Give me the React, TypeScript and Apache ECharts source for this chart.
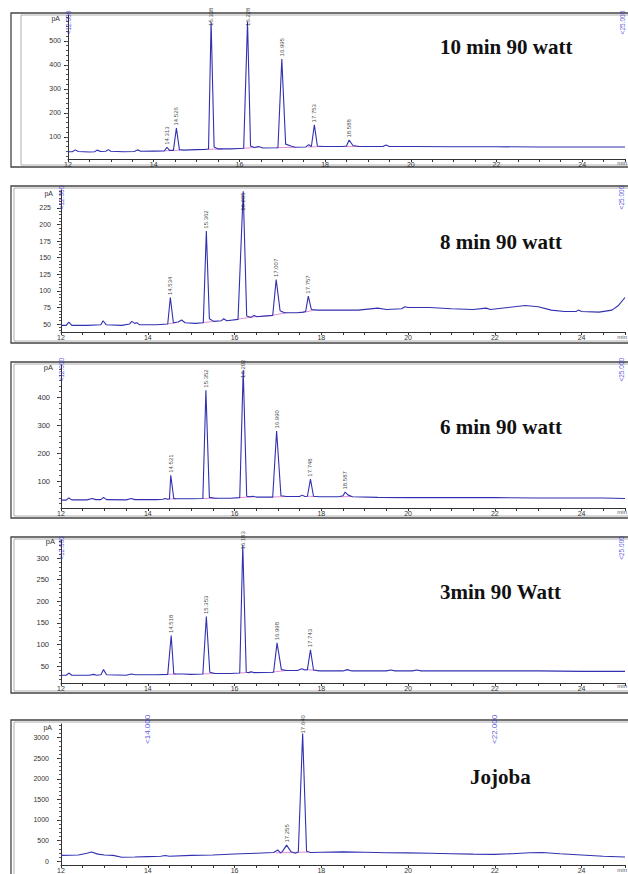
import React, { useEffect, useRef } from 'react';
import * as echarts from 'echarts';

// ---------- data ----------
const X_LABELS = [12, 14, 16, 18, 20, 22, 24];

const YTICKS_10MIN = [100, 200, 300, 400, 500];
const YTICKS_8MIN = [50, 75, 100, 125, 150, 175, 200, 225];
const YTICKS_6MIN = [100, 200, 300, 400];
const YTICKS_3MIN = [50, 100, 150, 200, 250, 300];
const YTICKS_JOJOBA = [0, 500, 1000, 1500, 2000, 2500, 3000];

const TITLES = ['10 min 90 watt', '8 min 90 watt', '6 min 90 watt', '3min 90 Watt', 'Jojoba'];

const TRACE_10MIN = [
  [12.0, 38], [12.1, 38], [12.17, 46], [12.24, 39], [12.5, 37], [12.62, 38], [12.68, 45], [12.76, 39],
  [12.88, 40], [12.94, 47], [13.0, 40], [13.3, 38], [13.55, 39], [13.62, 46], [13.7, 40], [14.0, 41],
  [14.25, 42], [14.31, 57], [14.37, 44], [14.46, 44], [14.53, 137], [14.6, 47], [14.7, 45], [15.0, 47],
  [15.2, 48], [15.28, 50], [15.34, 580], [15.41, 58], [15.5, 50], [15.8, 50], [16.0, 52], [16.1, 53],
  [16.19, 580], [16.26, 62], [16.35, 56], [16.45, 60], [16.55, 54], [16.9, 55], [16.99, 425], [17.08, 70],
  [17.2, 62], [17.3, 57], [17.55, 58], [17.62, 68], [17.68, 60], [17.75, 150], [17.82, 62], [17.95, 60],
  [18.4, 60], [18.5, 62], [18.56, 87], [18.65, 64], [18.8, 60], [19.35, 60], [19.42, 66], [19.5, 60],
  [20.0, 60], [21.0, 59], [22.0, 59], [23.0, 58], [24.0, 58], [25.0, 58],
];
const PEAKS_10MIN = [
  [14.31, 57, '14.313'], [14.53, 137, '14.526'], [15.34, 580, '15.338'], [16.19, 580, '16.228'],
  [16.99, 425, '16.995'], [17.75, 150, '17.753'], [18.56, 87, '18.588'],
];
const MARKERS_10MIN = [[12.0, 525, '<12.000'], [24.93, 525, '<25.000']];
const INTEG_10MIN = [
  [14.27, 42], [14.62, 45], null, [15.25, 48], [15.62, 50], null, [16.05, 52], [16.45, 57], null,
  [16.85, 55], [17.3, 57], null, [17.6, 58], [17.95, 60], null, [18.45, 60], [18.8, 60],
];

const TRACE_8MIN = [
  [12.0, 48], [12.12, 48], [12.18, 53], [12.25, 48], [12.6, 48], [12.92, 49], [12.97, 55], [13.04, 49],
  [13.4, 48], [13.58, 50], [13.63, 54], [13.7, 51], [13.75, 52], [13.8, 49], [14.2, 49], [14.46, 50],
  [14.52, 90], [14.59, 52], [14.7, 53], [14.78, 56], [14.86, 52], [15.1, 51], [15.28, 52], [15.35, 190],
  [15.42, 58], [15.52, 54], [15.7, 55], [15.75, 58], [15.82, 55], [16.08, 57], [16.2, 250], [16.28, 62],
  [16.38, 60], [16.45, 63], [16.52, 61], [16.88, 63], [16.96, 117], [17.05, 70], [17.15, 67], [17.45, 67],
  [17.58, 68], [17.64, 69], [17.7, 92], [17.77, 72], [17.9, 71], [18.4, 71], [18.85, 71], [19.3, 74],
  [19.5, 72], [19.85, 73], [19.93, 76], [20.0, 75], [20.5, 75], [21.0, 73], [21.5, 72], [21.8, 74],
  [21.9, 72], [22.3, 75], [22.7, 78], [23.0, 76], [23.3, 71], [23.6, 69], [23.88, 69], [23.92, 71],
  [24.0, 69], [24.4, 68], [24.7, 71], [24.85, 78], [25.0, 90],
];
const PEAKS_8MIN = [
  [14.52, 90, '14.534'], [15.35, 190, '15.362'], [16.2, 250, '16.205'], [16.96, 117, '17.007'], [17.7, 92, '17.757'],
];
const MARKERS_8MIN = [[12.0, 222, '<12.000'], [24.93, 222, '<25.000']];
const INTEG_8MIN = [
  [14.45, 50], [14.65, 52], null, [15.25, 52], [15.55, 54], null, [16.05, 57], [16.45, 61], [16.85, 63],
  [17.2, 67], null, [17.55, 67], [17.85, 71],
];

const TRACE_6MIN = [
  [12.0, 32], [12.12, 32], [12.18, 40], [12.25, 33], [12.6, 33], [12.72, 38], [12.8, 34], [12.92, 34],
  [12.98, 42], [13.05, 34], [13.5, 33], [13.62, 38], [13.7, 34], [14.2, 34], [14.35, 35], [14.4, 38],
  [14.46, 35], [14.5, 36], [14.53, 121], [14.6, 37], [14.8, 37], [15.0, 37], [15.27, 38], [15.34, 425],
  [15.42, 42], [15.55, 39], [15.9, 39], [16.12, 41], [16.2, 497], [16.28, 46], [16.35, 44], [16.42, 46],
  [16.5, 43], [16.88, 43], [16.97, 279], [17.07, 48], [17.2, 45], [17.5, 45], [17.56, 50], [17.62, 45],
  [17.68, 46], [17.75, 107], [17.82, 46], [17.95, 44], [18.4, 44], [18.5, 48], [18.55, 61], [18.62, 50],
  [18.72, 44], [19.3, 42], [20.0, 41], [21.0, 41], [22.0, 41], [23.0, 40], [24.0, 40], [24.5, 40], [25.0, 38],
];
const PEAKS_6MIN = [
  [14.53, 121, '14.521'], [15.34, 425, '15.352'], [16.2, 497, '16.202'], [16.97, 279, '16.990'],
  [17.75, 107, '17.748'], [18.55, 61, '18.587'],
];
const MARKERS_6MIN = [[12.0, 454, '<12.000'], [24.93, 454, '<25.000']];
const INTEG_6MIN = [
  [14.45, 36], [14.65, 37], null, [15.25, 38], [15.6, 39], null, [16.1, 41], [16.45, 44], null,
  [16.85, 43], [17.2, 45], null, [17.65, 46], [17.9, 45], null, [18.45, 44], [18.7, 45],
];

const TRACE_3MIN = [
  [12.0, 29], [12.12, 29], [12.18, 34], [12.25, 29], [12.65, 29], [12.75, 31], [12.82, 29], [12.92, 30],
  [12.98, 42], [13.05, 30], [13.5, 29], [13.62, 32], [13.72, 30], [14.2, 30], [14.46, 31], [14.54, 121],
  [14.6, 32], [14.8, 32], [15.0, 31], [15.27, 32], [15.35, 165], [15.43, 36], [15.55, 33], [15.9, 33],
  [16.12, 34], [16.19, 330], [16.27, 36], [16.33, 35], [16.38, 37], [16.45, 35], [16.9, 36], [16.98, 104],
  [17.08, 42], [17.2, 40], [17.45, 40], [17.55, 44], [17.62, 41], [17.68, 42], [17.75, 88], [17.82, 41],
  [17.95, 39], [18.5, 39], [18.6, 42], [18.7, 39], [19.5, 39], [19.6, 41], [19.7, 39], [20.1, 39],
  [20.2, 41], [20.3, 39], [21.0, 39], [22.0, 39], [23.0, 39], [24.0, 38], [25.0, 38],
];
const PEAKS_3MIN = [
  [14.54, 121, '14.518'], [15.35, 165, '15.353'], [16.19, 330, '16.183'], [16.98, 104, '16.998'], [17.75, 88, '17.743'],
];
const MARKERS_3MIN = [[12.0, 295, '<12.000'], [24.93, 295, '<25.000']];
const INTEG_3MIN = [
  [14.45, 31], [14.65, 32], null, [15.25, 32], [15.6, 33], null, [16.1, 34], [16.4, 36], null,
  [16.85, 36], [17.2, 40], null, [17.65, 42], [17.9, 40],
];

const TRACE_JOJOBA = [
  [12.0, 140], [12.4, 150], [12.6, 190], [12.7, 220], [12.85, 170], [13.0, 150], [13.2, 140], [13.4, 95],
  [13.7, 100], [14.0, 110], [14.3, 120], [14.4, 135], [14.5, 120], [15.0, 140], [15.5, 150], [16.0, 175],
  [16.5, 190], [16.9, 210], [16.95, 240], [17.0, 270], [17.06, 200], [17.1, 230], [17.2, 390], [17.3, 230],
  [17.4, 190], [17.47, 220], [17.57, 3100], [17.66, 240], [17.75, 210], [18.0, 215], [18.5, 225], [19.0, 215],
  [19.5, 205], [20.0, 200], [20.5, 190], [21.0, 180], [21.5, 170], [22.0, 165], [22.4, 180], [22.8, 205],
  [23.1, 210], [23.5, 180], [24.0, 150], [24.5, 120], [25.0, 100],
];
const PEAKS_JOJOBA = [[17.2, 390, '17.255'], [17.57, 3100, '17.640']];
const MARKERS_JOJOBA = [[14.0, 2835, '<14.000'], [22.0, 2835, '<22.000']];
const INTEG_JOJOBA = [[16.95, 200], [17.45, 215], [17.7, 220]];

// ---------- layout / styles ----------
const PANELS = [
  { trace: TRACE_10MIN, peaks: PEAKS_10MIN, markers: MARKERS_10MIN, integ: INTEG_10MIN, yTicks: YTICKS_10MIN,
    yMin: 8, yMax: 608, cap: 552, grid: { left: 68, top: 15, width: 560, height: 144 },
    font: 7, margin: 7, markerFont: 6.5, box: [11, 13, 167], inner: 21, title: [440, 47], pA: [60, 18], minY: 163 },
  { trace: TRACE_8MIN, peaks: PEAKS_8MIN, markers: MARKERS_8MIN, integ: INTEG_8MIN, yTicks: YTICKS_8MIN,
    yMin: 38, yMax: 252, cap: 217, grid: { left: 61, top: 190, width: 567, height: 142 },
    font: 7, margin: 10, markerFont: 6.5, box: [11, 186, 343], inner: 14, title: [440, 242], pA: [53, 193], minY: 337 },
  { trace: TRACE_6MIN, peaks: PEAKS_6MIN, markers: MARKERS_6MIN, integ: INTEG_6MIN, yTicks: YTICKS_6MIN,
    yMin: 4, yMax: 515, cap: 460, grid: { left: 61, top: 365, width: 567, height: 143 },
    font: 7.5, margin: 11, markerFont: 6.5, box: [11, 362, 518], inner: 14, title: [440, 427], pA: [53, 367], minY: 512 },
  { trace: TRACE_3MIN, peaks: PEAKS_3MIN, markers: MARKERS_3MIN, integ: INTEG_3MIN, yTicks: YTICKS_3MIN,
    yMin: 11, yMax: 342, cap: 314, grid: { left: 61, top: 540, width: 567, height: 143 },
    font: 7.5, margin: 12, markerFont: 6.5, box: [11, 537, 693], inner: 14, title: [440, 592], pA: [55, 541], minY: 686 },
  { trace: TRACE_JOJOBA, peaks: PEAKS_JOJOBA, markers: MARKERS_JOJOBA, integ: INTEG_JOJOBA, yTicks: YTICKS_JOJOBA,
    yMin: -94, yMax: 3331, cap: 3040, grid: { left: 61, top: 724, width: 567, height: 145 },
    font: 7, margin: 12, markerFont: 8, box: [11, 720, 890], inner: 14, title: [470, 777], pA: [52, 727], minY: 870 },
];

const TRACE_COLOR = '#3030b0';
const INTEG_COLOR = '#e070c8';
const MARKER_COLOR = '#2a2ad6';
const AXIS_COLOR = '#333';
const SANS = 'Liberation Sans, Arial, sans-serif';
const NARROW = 'Liberation Sans Narrow, Liberation Sans, Arial, sans-serif';

function minorTicks(ticks: number[], min: number, max: number) {
  const step = (ticks[1] - ticks[0]) / 5;
  const out: number[] = [];
  let v = ticks[0];
  while (v - step >= min) v -= step;
  for (; v <= max; v += step) out.push(Math.round(v * 1000) / 1000);
  return out;
}

function buildOption() {
  const grid: any[] = [];
  const xAxis: any[] = [];
  const yAxis: any[] = [];
  const series: any[] = [];
  const graphic: any[] = [];

  PANELS.forEach((p, i) => {
    grid.push({ ...p.grid, containLabel: false });
    xAxis.push({
      type: 'value', gridIndex: i, min: 12, max: 25, interval: 0.5,
      axisLine: { show: true, onZero: false, lineStyle: { color: AXIS_COLOR, width: 1 } },
      axisTick: { show: true, length: 3, lineStyle: { color: AXIS_COLOR } },
      axisLabel: {
        fontSize: 7, margin: 2, color: AXIS_COLOR, fontFamily: SANS,
        formatter: (v: number) => (X_LABELS.includes(v) ? String(v) : ''),
      },
      splitLine: { show: false },
    });
    yAxis.push({
      type: 'value', gridIndex: i, min: p.yMin, max: p.yMax, position: 'left',
      axisLine: { show: true, onZero: false, lineStyle: { color: AXIS_COLOR, width: 1 } },
      axisTick: { show: true, length: 4, customValues: p.yTicks, lineStyle: { color: AXIS_COLOR } },
      axisLabel: {
        customValues: p.yTicks, fontSize: p.font, margin: p.margin, color: AXIS_COLOR, fontFamily: SANS,
        formatter: (v: number) => String(v),
      },
      splitLine: { show: false },
    });
    yAxis.push({
      type: 'value', gridIndex: i, min: p.yMin, max: p.yMax, position: 'left',
      axisLine: { show: false },
      axisTick: { show: true, length: 2, customValues: minorTicks(p.yTicks, p.yMin, p.yMax), lineStyle: { color: '#555' } },
      axisLabel: { show: false },
      splitLine: { show: false },
    });

    series.push({
      type: 'line', xAxisIndex: i, yAxisIndex: 2 * i, data: p.trace, showSymbol: false, silent: true,
      lineStyle: { color: TRACE_COLOR, width: 1.1 }, z: 3,
    });
    series.push({
      type: 'line', xAxisIndex: i, yAxisIndex: 2 * i,
      data: p.integ.map((d) => (d === null ? ['-', '-'] : d)),
      showSymbol: false, silent: true, connectNulls: false,
      lineStyle: { color: INTEG_COLOR, width: 0.8 }, z: 2,
    });
    series.push({
      type: 'scatter', xAxisIndex: i, yAxisIndex: 2 * i, silent: true, symbolSize: 1,
      itemStyle: { color: 'rgba(0,0,0,0)' },
      data: p.peaks.map((d: any) => [d[0], Math.min(d[1], p.cap), d[2]]),
      label: {
        show: true, position: 'top', distance: 2, rotate: 90, align: 'left', verticalAlign: 'middle',
        fontSize: 6, color: '#111', fontFamily: NARROW, formatter: (q: any) => q.data[2],
      },
      z: 4,
    });
    series.push({
      type: 'scatter', xAxisIndex: i, yAxisIndex: 2 * i, silent: true, symbolSize: 1,
      itemStyle: { color: 'rgba(0,0,0,0)' },
      data: p.markers,
      label: {
        show: true, position: 'top', distance: 0, rotate: 90, align: 'left', verticalAlign: 'middle',
        fontSize: p.markerFont, color: MARKER_COLOR, fontFamily: NARROW, formatter: (q: any) => q.data[2],
      },
      z: 4,
    });

    const [bx, by, bb] = p.box;
    graphic.push({
      type: 'rect', shape: { x: bx, y: by, width: 700, height: bb - by }, silent: true,
      style: { fill: 'none', stroke: '#444', lineWidth: 1.3 },
    });
    graphic.push({
      type: 'rect', shape: { x: p.inner, y: by + 2, width: 700, height: bb - by - 4 }, silent: true,
      style: { fill: 'none', stroke: '#9a9a9a', lineWidth: 0.8 },
    });
    graphic.push({
      type: 'text', x: p.title[0], y: p.title[1], silent: true,
      style: {
        text: TITLES[i], fill: '#111', font: 'bold 21px "Liberation Serif", "Times New Roman", serif',
        verticalAlign: 'middle', align: 'left',
      },
    });
    graphic.push({
      type: 'text', x: p.pA[0], y: p.pA[1], silent: true,
      style: { text: 'pA', fill: AXIS_COLOR, font: `${p.font}px ${SANS}`, align: 'right', verticalAlign: 'middle' },
    });
    graphic.push({
      type: 'text', x: 627, y: p.minY, silent: true,
      style: { text: 'min', fill: '#555', font: `6px ${SANS}`, align: 'right', verticalAlign: 'middle' },
    });
  });

  return { animation: false, backgroundColor: '#fff', grid, xAxis, yAxis, series, graphic };
}

export default function App() {
  const ref = useRef<HTMLDivElement>(null);
  useEffect(() => {
    if (!ref.current) return;
    const chart = echarts.init(ref.current, undefined, { renderer: 'svg' });
    chart.setOption(buildOption() as any);
    return () => chart.dispose();
  }, []);
  return (
    <div
      ref={ref}
      style={{ position: 'absolute', left: 0, top: 0, width: 628, height: 874, background: '#fff' }}
    />
  );
}
